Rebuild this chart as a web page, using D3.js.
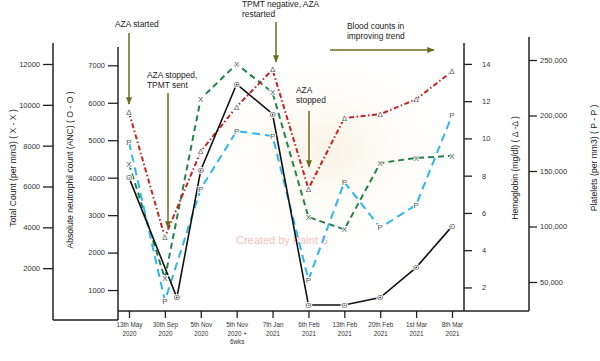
<!DOCTYPE html>
<html>
<head>
<meta charset="utf-8">
<script src="https://cdn.jsdelivr.net/npm/d3@7"></script>
<style>
  body { margin: 0; background: #fff; }
  svg { display: block; font-family: "Liberation Sans", Arial, sans-serif; }
</style>
</head>
<body>
<div id="chart"></div>
<script>
// data
var dates = [["13th May", "2020"], ["30th Sep", "2020"], ["5th Nov", "2020"], ["5th Nov", "2020 +", "6wks"],
             ["7th Jan", "2021"], ["6th Feb", "2021"], ["13th Feb", "2021"], ["20th Feb", "2021"],
             ["1st Mar", "2021"], ["8th Mar", "2021"]];
var totalCount = [7100, 1500, 10300, 12000, 10600, 4500, 3900, 7150, 7400, 7500];
var anc = [4000, 800, 4200, 6500, 5700, 600, 600, 800, 1600, 2700];
var hemoglobin = [11.4, 4.7, 9.3, 11.7, 13.7, 7.3, 11.1, 11.3, 12.1, 13.6];
var platelets = [176000, 33000, 134000, 186000, 181500, 52000, 140000, 99000, 119400, 200000];

var tcTicks = [2000, 4000, 6000, 8000, 10000, 12000];
var ancTicks = [1000, 2000, 3000, 4000, 5000, 6000, 7000];
var hbTicks = [2, 4, 6, 8, 10, 12, 14];
var pltTicks = [50000, 100000, 150000, 200000, 250000];

var notes = [
  {lines: ["AZA started"], x: 115, y: 27, ax: 129, ay1: 33, ay2: 104},
  {lines: ["AZA stopped,", "TPMT sent"], x: 147, y: 78, ax: 168, ay1: 93, ay2: 228},
  {lines: ["TPMT negative, AZA", "restarted"], x: 242, y: 7, ax: 276, ay1: 22, ay2: 62},
  {lines: ["AZA", "stopped"], x: 296, y: 93, ax: 309, ay1: 111, ay2: 167}
];

var svgWidth = 600;
var svgHeight = 361;
var baseY = 311;

var svg = d3.select('#chart')
            .append('svg')
            .attr('width', svgWidth)
            .attr('height', svgHeight);

var defs = svg.append('defs');
var grad = defs.append('radialGradient').attr('id', 'glow');
grad.append('stop').attr('offset', '0%').attr('stop-color', '#f6eedb').attr('stop-opacity', 0.7);
grad.append('stop').attr('offset', '100%').attr('stop-color', '#fbf7ee').attr('stop-opacity', 0);

defs.append('marker')
    .attr('id', 'arrow')
    .attr('viewBox', '0 0 10 10')
    .attr('refX', 9).attr('refY', 5)
    .attr('markerWidth', 5).attr('markerHeight', 5)
    .attr('orient', 'auto')
    .append('path')
    .attr('d', 'M0,1L10,5L0,9Z')
    .attr('fill', '#6b6b20');

// faint background glow and watermark
svg.append('ellipse')
   .attr('cx', 330).attr('cy', 150).attr('rx', 115).attr('ry', 95)
   .attr('fill', 'url(#glow)');
svg.append('text')
   .attr('x', 236).attr('y', 244)
   .attr('font-size', 11)
   .attr('fill', '#f6c0c0')
   .text('Created by Paint S');

var x = d3.scalePoint().domain(d3.range(dates.length)).range([129, 452]);
var yTC = d3.scaleLinear().domain([0, 12000]).range([309, 64]);
var yANC = d3.scaleLinear().domain([0, 7000]).range([327.5, 65.3]);
var yHb = d3.scaleLinear().domain([0, 14]).range([324.7, 63.9]);
var yPlt = d3.scaleLinear().domain([0, 250000]).range([337.5, 60]);

function styleAxis(g) {
    g.select('.domain').remove();
    g.selectAll('line').attr('stroke', '#222').attr('stroke-width', 1.3);
    g.selectAll('text').attr('font-size', 7.5).attr('fill', '#333')
     .attr('font-family', '"Liberation Sans", Arial, sans-serif');
}

// total count axis
svg.append('g')
   .attr('transform', 'translate(53,0)')
   .call(d3.axisLeft(yTC).tickValues(tcTicks).tickSize(10).tickPadding(3).tickFormat(d3.format('d')))
   .call(styleAxis);
// ANC axis
svg.append('g')
   .attr('transform', 'translate(118,0)')
   .call(d3.axisLeft(yANC).tickValues(ancTicks).tickSize(10).tickPadding(3).tickFormat(d3.format('d')))
   .call(styleAxis);
// hemoglobin axis
svg.append('g')
   .attr('transform', 'translate(464,0)')
   .call(d3.axisRight(yHb).tickValues(hbTicks).tickSize(8).tickPadding(10))
   .call(styleAxis);
// platelets axis
svg.append('g')
   .attr('transform', 'translate(529,0)')
   .call(d3.axisRight(yPlt).tickValues(pltTicks).tickSize(8).tickPadding(3).tickFormat(d3.format(',')))
   .call(styleAxis);

// x axis
var xAxis = svg.append('g')
   .attr('transform', `translate(0, ${baseY})`)
   .call(d3.axisBottom(x).tickSize(7).tickFormat(''))
   .call(styleAxis);

xAxis.selectAll('.tick')
     .append('text')
     .attr('text-anchor', 'middle')
     .attr('font-size', 6.3)
     .attr('fill', '#333')
     .selectAll('tspan')
     .data(d => dates[d])
     .enter()
     .append('tspan')
     .attr('x', 0)
     .attr('y', (d, i) => 16 + i * 8.5)
     .text(d => d);

// axis frame lines
var frame = [[53, 43, 53, 320], [53, 320, 118, 320], [118, 47, 118, 320],
             [118, baseY, 529, baseY], [464, 43, 464, baseY], [529, 37, 529, baseY]];
svg.selectAll('line.frame')
   .data(frame)
   .enter()
   .append('line')
   .attr('class', 'frame')
   .attr('x1', d => d[0]).attr('y1', d => d[1])
   .attr('x2', d => d[2]).attr('y2', d => d[3])
   .attr('stroke', '#222')
   .attr('stroke-width', 1.5);

// axis titles
var titles = [
  {t: 'Total Count (per mm3) ( X - X )', x: 13, y: 168},
  {t: 'Absolute neutrophil count (ANC) ( O - O )', x: 70, y: 170},
  {t: 'Hemoglobin (mg/dl) ( \u0394 -\u0394 )', x: 515, y: 168},
  {t: 'Platelets (per mm3) ( P - P )', x: 594, y: 158}
];
svg.selectAll('text.title')
   .data(titles)
   .enter()
   .append('text')
   .attr('class', 'title')
   .attr('transform', d => `translate(${d.x}, ${d.y}) rotate(-90)`)
   .attr('text-anchor', 'middle')
   .attr('dy', '0.35em')
   .attr('font-size', 8.6)
   .attr('fill', '#222')
   .text(d => d.t);

// series
var series = [
  {vals: totalCount, y: yTC, color: '#23834a', dash: '6,4', w: 2, mark: 'X'},
  {vals: platelets, y: yPlt, color: '#2fb5ef', dash: '8,5', w: 2, mark: 'P'},
  {vals: hemoglobin, y: yHb, color: '#c4231f', dash: '5,2.5,1.5,2.5', w: 2, mark: '\u0394'},
  {vals: anc, y: yANC, color: '#111', dash: null, w: 1.6, mark: 'O'}
];

// nudge a marker sideways when it would sit on top of an earlier one
var placed = [];
series.forEach(function(s) {
    s.px = s.vals.map(function(d, i) {
        var px = x(i), py = s.y(d);
        placed.forEach(function(p) {
            if (p[0] === i && Math.abs(p[1] - py) < 8) px += 12;
        });
        placed.push([i, py]);
        return px;
    });
});

series.forEach(function(s) {
    var line = d3.line()
                 .x((d, i) => s.px[i])
                 .y(d => s.y(d));
    svg.append('path')
       .datum(s.vals)
       .attr('d', line)
       .attr('fill', 'none')
       .attr('stroke', s.color)
       .attr('stroke-width', s.w)
       .attr('stroke-dasharray', s.dash);
});

series.forEach(function(s) {
    svg.selectAll(null)
       .data(s.vals)
       .enter()
       .append('text')
       .attr('x', (d, i) => s.px[i])
       .attr('y', d => s.y(d))
       .attr('dy', '0.35em')
       .attr('text-anchor', 'middle')
       .attr('font-size', 8)
       .attr('fill', '#555')
       .attr('stroke', '#fff')
       .attr('stroke-width', 2)
       .attr('paint-order', 'stroke')
       .text(s.mark);
});

// annotations
notes.forEach(function(n) {
    var t = svg.append('text')
               .attr('font-size', 8.4)
               .attr('fill', '#222');
    n.lines.forEach(function(l, i) {
        t.append('tspan').attr('x', n.x).attr('y', n.y + i * 10).text(l);
    });
    svg.append('line')
       .attr('x1', n.ax).attr('y1', n.ay1)
       .attr('x2', n.ax).attr('y2', n.ay2)
       .attr('stroke', '#6b6b20')
       .attr('stroke-width', 1.5)
       .attr('marker-end', 'url(#arrow)');
});

var trend = svg.append('text').attr('font-size', 8.4).attr('fill', '#222');
trend.append('tspan').attr('x', 347).attr('y', 29).text('Blood counts in');
trend.append('tspan').attr('x', 347).attr('y', 39).text('improving trend');
svg.append('line')
   .attr('x1', 330).attr('y1', 50)
   .attr('x2', 434).attr('y2', 50)
   .attr('stroke', '#6b6b20')
   .attr('stroke-width', 1.5)
   .attr('marker-end', 'url(#arrow)');
</script>
</body>
</html>
